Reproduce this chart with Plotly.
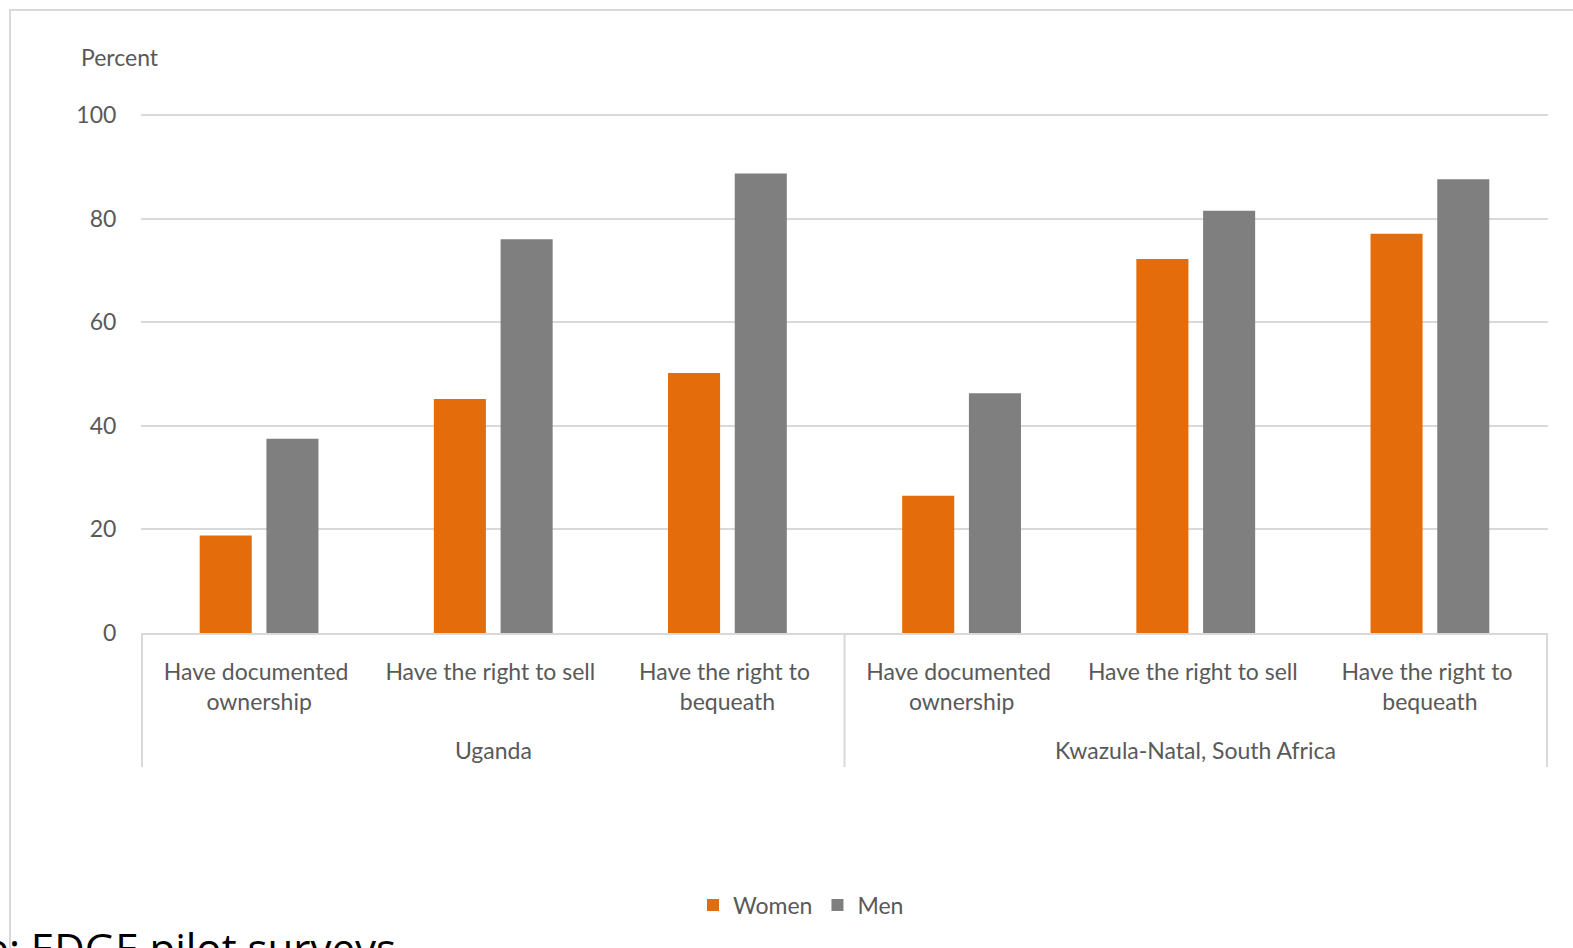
import plotly.graph_objects as go

countries = ["Uganda", "Kwazula-Natal, South Africa"]
indicators = ["Have documented <br>ownership", "Have the right to sell ", "Have the right to <br>bequeath"]
women = [18.8, 45.2, 50.2, 26.5, 72.2, 77.1]
men = [37.5, 76.0, 88.7, 46.3, 81.5, 87.6]
y_ticks = [0, 20, 40, 60, 80, 100]

keys = [f"{c}|{i}" for c in countries for i in range(len(indicators))]
ticktext = [ind for c in countries for ind in indicators]

FONT = "Lato"
FS = 23
GREY_TXT = "#595959"
GRID = "#d9d9d9"

fig = go.Figure()
fig.add_trace(go.Bar(name="Women", x=keys, y=women, marker=dict(color="#E46C0A", line=dict(width=0))))
fig.add_trace(go.Bar(name="Men", x=keys, y=men, marker=dict(color="#7F7F7F", line=dict(width=0))))

W, H = 1573, 948
L, R, T, B = 141, 25, 114, 315
pw, ph = W - L - R, H - T - B

def px_x(x):
    return (x - L) / pw

def px_y(y):
    return (H - B - y) / ph

fig.update_layout(
    width=W, height=H,
    margin=dict(l=L, r=R, t=T, b=B, pad=0),
    paper_bgcolor="white", plot_bgcolor="white",
    barmode="group", bargap=0.43, bargroupgap=0.22,
    font=dict(family=FONT, size=FS, color=GREY_TXT),
    showlegend=True,
    legend=dict(orientation="h", x=px_x(801), y=px_y(905), xanchor="center", yanchor="middle",
                font=dict(family=FONT, size=FS, color=GREY_TXT), itemwidth=30,
                tracegroupgap=0, itemclick=False),
)
fig.update_xaxes(
    type="category", categoryorder="array", categoryarray=keys,
    tickvals=keys, ticktext=ticktext,
    showgrid=False, zeroline=False,
    showline=True, linecolor=GRID, linewidth=2,
    ticks="outside", ticklen=17, tickcolor="rgba(0,0,0,0)",
    tickfont=dict(family=FONT, size=FS, color=GREY_TXT),
    tickangle=0, fixedrange=True,
)
fig.update_yaxes(
    range=[0, 100.2], tickvals=y_ticks,
    showgrid=True, gridcolor=GRID, gridwidth=2,
    zeroline=False, showline=False,
    ticks="outside", ticklen=19, tickcolor="rgba(0,0,0,0)",
    tickfont=dict(family=FONT, size=FS, color=GREY_TXT),
    fixedrange=True,
)

shapes = []
# category dividers
for xv in [-0.5, 2.5, 5.5]:
    shapes.append(dict(type="line", xref="x", yref="paper", x0=xv, x1=xv, y0=0, y1=px_y(767),
                       line=dict(color=GRID, width=2)))
# outer chart border (left and top visible)
shapes.append(dict(type="rect", xref="paper", yref="paper", x0=px_x(10), x1=px_x(1620),
                   y0=px_y(1000), y1=px_y(10), line=dict(color=GRID, width=2), layer="below"))
fig.update_layout(shapes=shapes)

annotations = [
    dict(text="Percent", xref="paper", yref="paper", x=px_x(79), y=px_y(57), xanchor="left",
         yanchor="middle", showarrow=False, font=dict(family=FONT, size=FS, color=GREY_TXT)),
]
for ci, c in enumerate(countries):
    annotations.append(dict(text=c, xref="x", yref="paper", x=ci * 3 + 1, y=px_y(750),
                            xanchor="center", yanchor="middle", showarrow=False,
                            font=dict(family=FONT, size=FS, color=GREY_TXT)))
annotations.append(dict(text="Source: EDGE pilot surveys", xref="paper", yref="paper",
                        x=px_x(398), y=px_y(917), xanchor="right", yanchor="top", showarrow=False,
                        font=dict(family="Open Sans, sans-serif", size=42, color="black")))
fig.update_layout(annotations=annotations)

fig.write_html("out.html", config=dict(displayModeBar=False))
